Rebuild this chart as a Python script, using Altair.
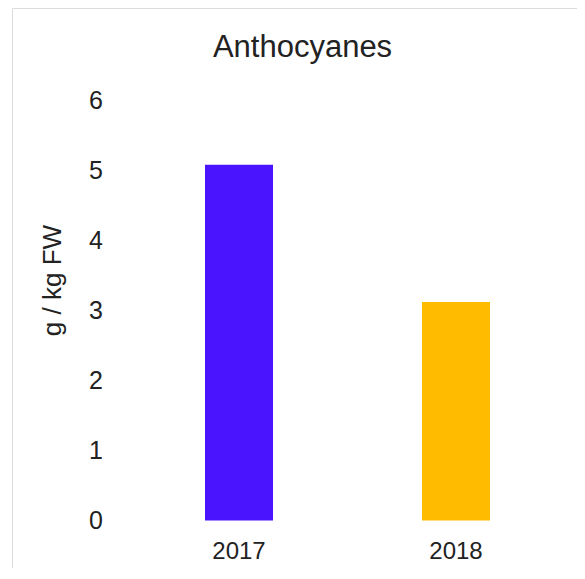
import altair as alt
import pandas as pd

years = ["2017", "2018"]
values = [5.08, 3.12]
colors = ["#4a14ff", "#ffbb00"]
y_ticks = [0, 1, 2, 3, 4, 5, 6]
title_text = "Anthocyanes"
y_title = "g / kg FW"

df = pd.DataFrame({"year": years, "value": values})

FONT = "Liberation Sans, Arial, sans-serif"
TEXT = "#222222"
FRAME = "#dcdcdc"

x_scale = alt.Scale(domain=years, paddingInner=0.6866, paddingOuter=0.6452, align=0.6893)
y_scale = alt.Scale(domain=[-0.679, 7.321], nice=False, zero=False)

y_axis = alt.Axis(
    values=y_ticks, title=y_title, grid=False, ticks=False,
    domain=True, domainColor=FRAME, domainWidth=1,
    labelPadding=-90.5, labelFontSize=25, labelColor=TEXT, labelFont=FONT,
    titleFont=FONT, titleFontSize=26, titleFontWeight="normal", titleColor=TEXT,
    titleX=48, titleY=272, titleAngle=270, titleAlign="center", titleBaseline="alphabetic",
)
y_enc = alt.Y("value:Q", scale=y_scale, axis=y_axis)

bottom_axis = alt.Axis(
    orient="bottom", title=None, domain=False, ticks=False, grid=False,
    labelAngle=0, labelFontSize=24, labelBaseline="alphabetic", labelPadding=-10,
    labelColor=TEXT, labelFont=FONT,
)
top_axis = alt.Axis(
    orient="top", title=None, domain=True, domainColor=FRAME, domainWidth=1,
    ticks=False, labels=False, grid=False,
)

bars = alt.Chart(df).mark_bar().encode(
    x=alt.X("year:N", scale=x_scale, axis=bottom_axis, sort=years),
    y=y_enc,
    color=alt.Color("year:N", scale=alt.Scale(domain=years, range=colors), legend=None),
)
frame_top = alt.Chart(df).mark_bar(opacity=0).encode(
    x=alt.X("year:N", scale=x_scale, axis=top_axis, sort=years),
    y=y_enc,
)

chart = (
    alt.layer(bars, frame_top)
    .resolve_axis(x="independent")
    .properties(
        width=565, height=560,
        padding={"left": 4, "top": 0, "right": 0, "bottom": 0},
        autosize=alt.AutoSizeParams(type="none"),
        title=alt.TitleParams(
            title_text, fontSize=31, font=FONT, color=TEXT, fontWeight="normal",
            anchor="middle", offset=-50, baseline="alphabetic", dx=8, dy=30,
        ),
    )
    .configure_view(stroke=None)
)

chart.save("out.html", embed_options={"renderer": "svg", "actions": False})
